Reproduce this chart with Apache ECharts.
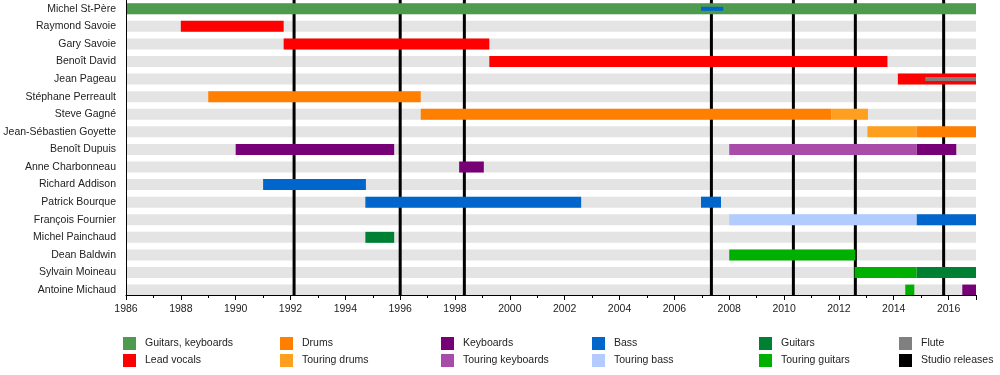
<!DOCTYPE html>
<html>
<head>
<meta charset="utf-8">
<script src="https://cdn.jsdelivr.net/npm/echarts@6/dist/echarts.min.js"></script>
<style>
html,body{margin:0;padding:0;background:#fff;}
#chart{width:1000px;height:375px;}
</style>
</head>
<body>
<div id="chart"></div>
<script>
// ---- data ----
const members = ["Michel St-Père","Raymond Savoie","Gary Savoie","Benoît David","Jean Pageau","Stéphane Perreault","Steve Gagné","Jean-Sébastien Goyette","Benoît Dupuis","Anne Charbonneau","Richard Addison","Patrick Bourque","François Fournier","Michel Painchaud","Dean Baldwin","Sylvain Moineau","Antoine Michaud"];
const yearMin = 1986, yearMax = 2017;
// [member, start, end, thin(0/1)]
const guitarsKeyboards = [["Michel St-Père",1986,2017,0]];
const leadVocals = [["Raymond Savoie",1988.0,1991.75,0],["Gary Savoie",1991.75,1999.25,0],["Benoît David",1999.25,2013.77,0],["Jean Pageau",2014.15,2017,0]];
const drums = [["Stéphane Perreault",1989.0,1996.75,0],["Steve Gagné",1996.75,2011.72,0],["Jean-Sébastien Goyette",2014.83,2017,0]];
const touringDrums = [["Steve Gagné",2011.72,2013.06,0],["Jean-Sébastien Goyette",2013.04,2014.83,0]];
const keyboards = [["Benoît Dupuis",1990.0,1995.78,0],["Benoît Dupuis",2014.83,2016.28,0],["Anne Charbonneau",1998.15,1999.05,0],["Antoine Michaud",2016.5,2017,0]];
const touringKeyboards = [["Benoît Dupuis",2008.0,2014.83,0]];
const bass = [["Michel St-Père",2006.97,2007.78,1],["Richard Addison",1991.0,1994.75,0],["Patrick Bourque",1994.73,2002.6,0],["Patrick Bourque",2006.97,2007.7,0],["François Fournier",2014.83,2017,0]];
const touringBass = [["François Fournier",2008.0,2014.83,0]];
const guitars = [["Michel Painchaud",1994.73,1995.78,0],["Sylvain Moineau",2014.83,2017,0]];
const touringGuitars = [["Dean Baldwin",2008.0,2012.6,0],["Sylvain Moineau",2012.57,2014.83,0],["Antoine Michaud",2014.42,2014.75,0]];
const flute = [["Jean Pageau",2015.15,2017,1]];
const studioReleases = [1992.13,1996.0,1998.34,2007.35,2010.34,2012.6,2015.82];

const roles = [
  {name:"Guitars, keyboards", color:"#4e9a4e", data:guitarsKeyboards},
  {name:"Lead vocals", color:"#ff0000", data:leadVocals},
  {name:"Drums", color:"#ff8000", data:drums},
  {name:"Touring drums", color:"#ff9f20", data:touringDrums},
  {name:"Keyboards", color:"#770077", data:keyboards},
  {name:"Touring keyboards", color:"#a94ca9", data:touringKeyboards},
  {name:"Bass", color:"#0066cc", data:bass},
  {name:"Touring bass", color:"#b3ccff", data:touringBass},
  {name:"Guitars", color:"#008033", data:guitars},
  {name:"Touring guitars", color:"#00b000", data:touringGuitars},
  {name:"Flute", color:"#808080", data:flute}
];

const FONT = "'Liberation Sans', Arial, sans-serif";
const FS = 10.5;

function barRender(params, api){
  const cat = api.value(0), s = api.value(1), e = api.value(2), thin = api.value(3);
  const p1 = api.coord([s, cat]);
  const p2 = api.coord([e, cat]);
  const h = thin ? 4 : 11;
  return {type:'rect', shape:{x:p1[0], y:p1[1]-h/2, width:p2[0]-p1[0], height:h}, style:{fill:api.visual('color')}};
}
function lineRender(params, api){
  const y = api.value(0);
  const a = api.coord([y, 0]);
  const b = api.coord([y, 1]);
  return {type:'line', shape:{x1:a[0], y1:a[1], x2:b[0], y2:b[1]}, style:{stroke:'#000', lineWidth:3}};
}

const series = [];
series.push({
  type:'custom', name:'bg', xAxisIndex:0, yAxisIndex:0, z:1, silent:true,
  renderItem: barRender, encode:{x:[1,2], y:0},
  itemStyle:{color:'#e4e4e4'},
  data: members.map((m,i)=>[i, yearMin, yearMax, 0])
});
series.push({
  type:'custom', name:'Studio releases', xAxisIndex:1, yAxisIndex:1, z:2,
  renderItem: lineRender, encode:{x:0},
  itemStyle:{color:'#000'},
  data: studioReleases.map(y=>[y])
});
roles.forEach(r=>{
  series.push({
    type:'custom', name:r.name, xAxisIndex:0, yAxisIndex:0, z:3,
    renderItem: barRender, encode:{x:[1,2], y:0},
    itemStyle:{color:r.color},
    data: r.data.map(d=>[members.indexOf(d[0]), d[1], d[2], d[3]])
  });
});

const legendLayout = [
  ["Guitars, keyboards",123,337],["Drums",280,337],["Keyboards",441,337],["Bass",592,337],["Guitars",759,337],["Flute",899,337],
  ["Lead vocals",123,354],["Touring drums",280,354],["Touring keyboards",441,354],["Touring bass",592,354],["Touring guitars",759,354],["Studio releases",899,354]
];
const legends = legendLayout.map(l=>({
  data:[{name:l[0], icon:'rect'}], left:l[1], top:l[2], padding:0,
  itemWidth:13, itemHeight:13, selectedMode:false,
  textStyle:{fontFamily:FONT, fontSize:FS, color:'#222', padding:[0,0,0,4]}
}));

const option = {
  animation:false,
  backgroundColor:'#fff',
  grid:[
    {left:126, width:850, top:-2.36, height:301.24},
    {left:126, width:850, top:0, height:295}
  ],
  xAxis:[
    {gridIndex:0, type:'value', min:yearMin, max:yearMax, show:false},
    {gridIndex:1, type:'value', min:yearMin, max:yearMax, interval:2, z:10,
     axisLine:{show:true, lineStyle:{color:'#000', width:1}},
     axisTick:{show:true, length:5, lineStyle:{color:'#000'}},
     minorTick:{show:true, splitNumber:2, length:3, lineStyle:{color:'#000'}},
     splitLine:{show:false},
     axisLabel:{fontFamily:FONT, fontSize:FS, color:'#222', margin:9, showMaxLabel:false,
       formatter:v=>(v>=yearMax ? '' : String(v))}}
  ],
  yAxis:[
    {gridIndex:0, type:'category', data:members, inverse:true,
     axisLine:{show:false}, axisTick:{show:false}, splitLine:{show:false},
     axisLabel:{fontFamily:FONT, fontSize:FS, color:'#222', margin:10}},
    {gridIndex:1, type:'value', min:0, max:1, z:10,
     axisLine:{show:true, lineStyle:{color:'#000', width:1}},
     axisTick:{show:false}, axisLabel:{show:false}, splitLine:{show:false}}
  ],
  legend: legends,
  series: series
};
const chart = echarts.init(document.getElementById('chart'), null, {renderer:'canvas'});
chart.setOption(option);
</script>
</body>
</html>
